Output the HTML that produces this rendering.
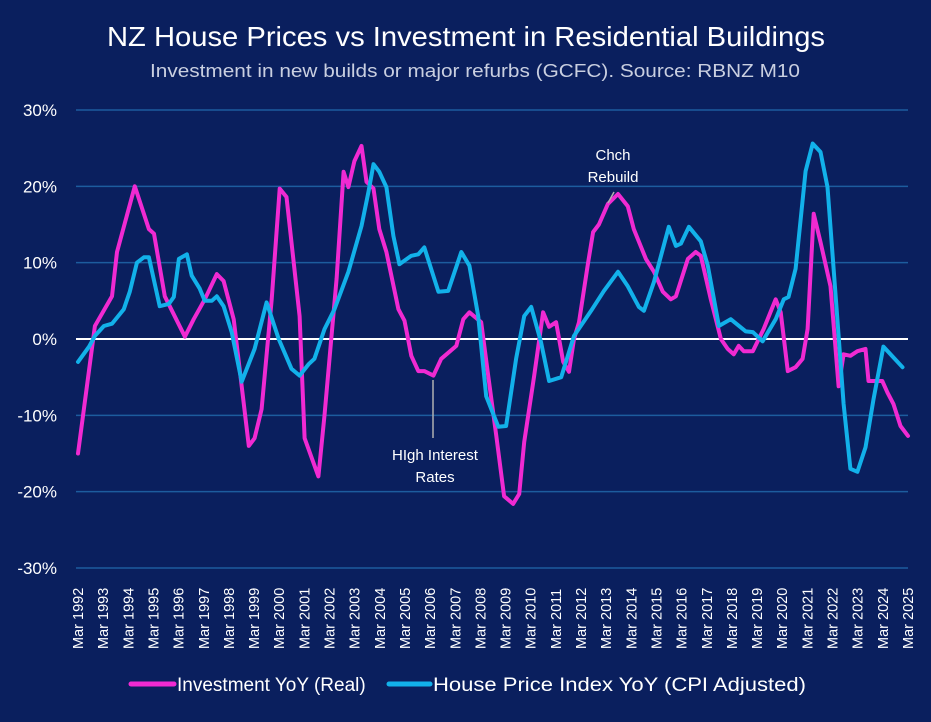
<!DOCTYPE html>
<html><head><meta charset="utf-8">
<style>
html,body{margin:0;padding:0;background:#0a1f5e;}
body{width:931px;height:717px;overflow:hidden;font-family:"Liberation Sans",sans-serif;}
svg text{font-family:"Liberation Sans",sans-serif;}
</style></head>
<body>
<svg id="chart" width="931" height="717" xmlns="http://www.w3.org/2000/svg">
<rect x="0" y="0" width="931" height="717" fill="#0a1f5e"/>
<text x="107" y="46" textLength="718" lengthAdjust="spacingAndGlyphs" fill="#ffffff" font-size="28">NZ House Prices vs Investment in Residential Buildings</text>
<text x="150" y="77" textLength="650" lengthAdjust="spacingAndGlyphs" fill="#c9cfe0" font-size="18">Investment in new builds or major refurbs (GCFC). Source: RBNZ M10</text>
<g id="grid"></g>
<g id="yaxis"></g>
<g id="xaxis"></g>
<g id="series"></g>
<g id="annot">
<line x1="433" y1="380" x2="433" y2="438" stroke="#b0b0b0" stroke-width="1.5"/>
<text x="435" y="460" text-anchor="middle" fill="#ffffff" font-size="15">HIgh Interest</text>
<text x="435" y="482" text-anchor="middle" fill="#ffffff" font-size="15">Rates</text>
<line x1="614" y1="192" x2="608" y2="203" stroke="#b0b0b0" stroke-width="1.5"/>
<text x="613" y="160" text-anchor="middle" fill="#ffffff" font-size="15">Chch</text>
<text x="613" y="182" text-anchor="middle" fill="#ffffff" font-size="15">Rebuild</text>
</g>
<g>
<line x1="131" y1="684" x2="174" y2="684" stroke="#f02ad2" stroke-width="5" stroke-linecap="round"/>
<text x="177" y="691" fill="#ffffff" font-size="19">Investment YoY (Real)</text>
<line x1="389" y1="684" x2="430" y2="684" stroke="#12b1ea" stroke-width="5" stroke-linecap="round"/>
<text x="433" y="691" textLength="373" lengthAdjust="spacingAndGlyphs" fill="#ffffff" font-size="19">House Price Index YoY (CPI Adjusted)</text>
</g>
</svg>
<script>
const yTicks = [30, 20, 10, 0, -10, -20, -30];
const yearLabels = [];
for (let y = 1992; y <= 2025; y++) yearLabels.push(y);
const invDates = [1992.17,1992.84,1993.52,1993.72,1994.43,1994.99,1995.19,1995.62,1996.42,1996.77,1997.21,1997.69,1997.96,1998.36,1998.96,1999.19,1999.47,1999.87,2000.19,2000.46,2000.98,2001.18,2001.73,2001.97,2002.45,2002.73,2002.92,2003.16,2003.44,2003.64,2003.92,2004.15,2004.43,2004.91,2005.15,2005.42,2005.70,2005.94,2006.30,2006.61,2007.21,2007.49,2007.73,2008.20,2008.48,2008.80,2009.11,2009.47,2009.71,2009.91,2010.31,2010.66,2010.90,2011.18,2011.46,2011.69,2011.89,2012.09,2012.45,2012.65,2012.88,2013.24,2013.64,2014.03,2014.27,2014.75,2015.07,2015.42,2015.74,2015.94,2016.42,2016.73,2016.93,2017.33,2017.73,2018.00,2018.24,2018.44,2018.64,2019.00,2019.43,2019.91,2020.11,2020.39,2020.70,2020.98,2021.18,2021.42,2021.69,2022.09,2022.41,2022.61,2022.88,2023.16,2023.48,2023.60,2024.15,2024.35,2024.59,2024.87,2025.17];
const invValues = [-15,1.7,5.6,11.4,20,14.4,13.8,5.6,0.3,2.6,5.2,8.5,7.6,2.6,-14,-13,-9.2,5.2,19.7,18.6,3,-13,-18,-10,7.9,21.9,19.9,23.3,25.3,20.6,19.7,14.4,11.4,3.9,2.4,-2.2,-4.2,-4.2,-4.8,-2.6,-0.9,2.6,3.5,2.2,-4.8,-12.7,-20.6,-21.6,-20.3,-13.5,-4.8,3.5,1.6,2.2,-3,-4.3,0,2.2,10,14,15,17.7,19,17.4,14.4,10.5,8.8,6.2,5.2,5.6,10.5,11.4,10.9,5.2,0,-1.3,-2,-0.9,-1.6,-1.6,1.3,5.2,3.5,-4.2,-3.7,-2.6,1.3,16.4,12.7,6.9,-6.2,-2,-2.2,-1.6,-1.3,-5.5,-5.5,-7,-8.5,-11.4,-12.7];
const hpiDates = [1992.17,1992.61,1992.84,1993.20,1993.52,1993.99,1994.23,1994.51,1994.79,1994.99,1995.42,1995.78,1995.98,1996.18,1996.50,1996.69,1997.01,1997.21,1997.49,1997.69,1997.96,1998.28,1998.68,1999.19,1999.67,2000.15,2000.66,2000.98,2001.34,2001.57,2001.97,2002.37,2002.92,2003.44,2003.72,2003.92,2004.15,2004.43,2004.71,2004.95,2005.42,2005.70,2005.94,2006.50,2006.89,2007.41,2007.73,2008.08,2008.40,2008.88,2009.19,2009.59,2009.91,2010.19,2010.58,2010.90,2011.38,2011.89,2012.57,2013.08,2013.64,2014.03,2014.47,2014.67,2015.07,2015.66,2015.94,2016.14,2016.46,2016.93,2017.21,2017.65,2018.12,2018.72,2019.00,2019.39,2019.91,2020.23,2020.42,2020.70,2021.10,2021.38,2021.69,2021.97,2022.37,2022.61,2022.88,2023.16,2023.48,2023.80,2024.19,2024.39,2024.95];
const hpiValues = [-3,-1,0.4,1.7,2,3.9,6.2,10,10.7,10.7,4.3,4.6,5.5,10.5,11.1,8.3,6.6,5,5,5.6,4.3,0.9,-5.6,-1.3,4.8,0,-3.9,-4.8,-3.3,-2.6,1.3,3.9,8.8,14.8,19.3,22.9,21.9,19.9,13.5,9.8,10.9,11.1,12,6.2,6.3,11.4,9.6,3,-7.5,-11.5,-11.4,-2.6,3,4.2,-0.4,-5.5,-5,0.4,3.7,6.3,8.8,6.9,4.2,3.7,7.5,14.7,12.2,12.5,14.7,12.8,9.6,1.7,2.6,1,0.9,-0.3,2.6,5.2,5.5,9.2,22,25.6,24.5,19.9,2.2,-8.5,-17,-17.4,-14.2,-7.9,-1,-1.7,-3.7];

const NS = "http://www.w3.org/2000/svg";
const X0 = 78, X1 = 908, T0 = 1992.17, T1 = 2025.17;
const Y_TOP = 110, Y_BOT = 568, V_TOP = 30, V_BOT = -30;
function xScale(t){ return X0 + (t - T0) / (T1 - T0) * (X1 - X0); }
function yScale(v){ return Y_TOP + (V_TOP - v) / (V_TOP - V_BOT) * (Y_BOT - Y_TOP); }
function mk(tag, attrs, parent){ const e = document.createElementNS(NS, tag); for (const k in attrs) e.setAttribute(k, attrs[k]); parent.appendChild(e); return e; }

const grid = document.getElementById('grid');
const yaxis = document.getElementById('yaxis');
yTicks.forEach(v => {
  const y = yScale(v);
  const ln = mk('line', {x1: 76, x2: 908, y1: y, y2: y, stroke: v === 0 ? '#ffffff' : '#1d5c9e', 'stroke-width': v === 0 ? 2 : 1.5}, grid);
  
  
  const tx = mk('text', {x: 57, y: y + 6, 'text-anchor': 'end', fill: '#ffffff', 'font-size': 17}, yaxis);
  tx.textContent = v + '%';
  
  
});

const xaxis = document.getElementById('xaxis');
yearLabels.forEach(yr => {
  const x = xScale(yr + 0.17);
  const tx = mk('text', {x: 0, y: 0, transform: 'translate(' + (x + 5) + ',649) rotate(-90)', fill: '#ffffff', 'font-size': 14.5}, xaxis);
  tx.textContent = 'Mar ' + yr;
  
  
});

const series = document.getElementById('series');
function drawLine(dates, vals, color, name){
  const d = dates.map((t, i) => (i ? 'L' : 'M') + xScale(t).toFixed(1) + ',' + yScale(vals[i]).toFixed(1)).join(' ');
  const p = mk('path', {d: d, fill: 'none', stroke: color, 'stroke-width': 4, 'stroke-linejoin': 'round', 'stroke-linecap': 'round'}, series);
  
  
}
drawLine(invDates, invValues, '#f02ad2', 'investment-line');
drawLine(hpiDates, hpiValues, '#12b1ea', 'house-price-line');
</script>
</body></html>
